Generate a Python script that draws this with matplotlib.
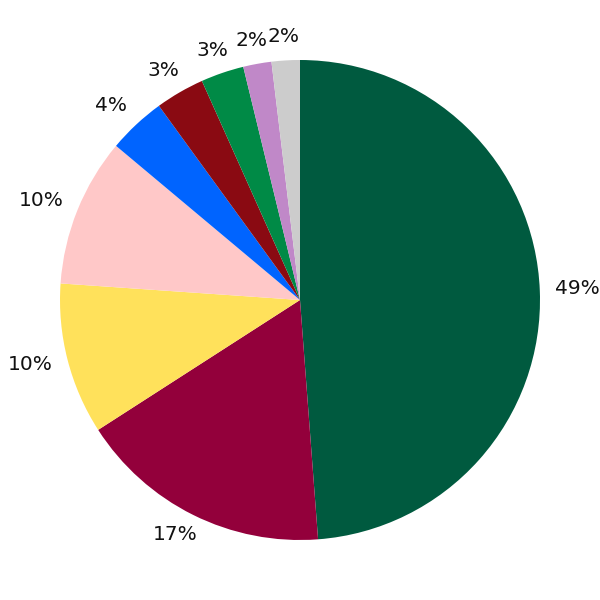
import numpy as np
import matplotlib
matplotlib.use("Agg")
import matplotlib.pyplot as plt

values = [48.8, 17.1, 10.2, 10.0, 3.9, 3.3, 2.9, 1.9, 1.9]
labels = ["49%", "17%", "10%", "10%", "4%", "3%", "3%", "2%", "2%"]
colors = ["#005a3f", "#93003b", "#ffe15b", "#ffc8c8", "#0064ff",
          "#8a0a12", "#008a46", "#c088c8", "#cccccc"]

fig = plt.figure(figsize=(6, 6), dpi=100)
ax = fig.add_axes([0, 0, 1, 1])
wedges, _ = ax.pie(values, colors=colors, startangle=90, counterclock=False,
                   radius=1.0, wedgeprops=dict(linewidth=0))
ax.set_xlim(-1.25, 1.25)
ax.set_ylim(-1.25, 1.25)
ax.set_aspect("equal")
ax.axis("off")

R_px = 240.0
fs = 14.5
size_px = fs * 100 / 72.0
cap = 0.729 * size_px
for w, lab in zip(wedges, labels):
    ang = np.deg2rad((w.theta1 + w.theta2) / 2)
    dx, dy = np.cos(ang), np.sin(ang)
    ndig = len(lab) - 1
    hw = (0.636 * ndig + 0.95) * size_px / 2
    hh = cap / 2
    m = max(abs(dx), abs(dy))
    cx = 255 * dx + hw * dx / m
    cy = 255 * dy + hh * dy / m + 3
    ax.text(cx / R_px, (cy - hh) / R_px, lab, ha="center", va="baseline",
            fontsize=fs, color="#111111")

fig.savefig("out.png", dpi=100)
